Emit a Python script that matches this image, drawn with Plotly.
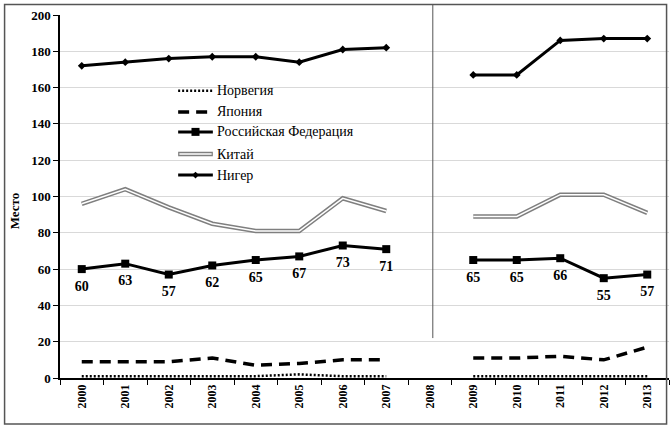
import plotly.graph_objects as go

years = ["2000", "2001", "2002", "2003", "2004", "2005", "2006", "2007", "2008",
         "2009", "2010", "2011", "2012", "2013"]
norway = [1, 1, 1, 1, 1, 2, 1, 1, None, 1, 1, 1, 1, 1]
japan = [9, 9, 9, 11, 7, 8, 10, 10, None, 11, 11, 12, 10, 17]
russia = [60, 63, 57, 62, 65, 67, 73, 71, None, 65, 65, 66, 55, 57]
china = [96, 104, 94, 85, 81, 81, 99, 92, None, 89, 89, 101, 101, 91]
niger = [172, 174, 176, 177, 177, 174, 181, 182, None, 167, 167, 186, 187, 187]
legend_names = ["Норвегия", "Япония", "Российская Федерация", "Китай", "Нигер"]

SERIF = "Liberation Serif"

fig = go.Figure()

fig.add_trace(go.Scatter(x=years, y=norway, mode="lines", name=legend_names[0],
                         line=dict(color="black", width=2.5, dash="2px,2px"),
                         connectgaps=False))
fig.add_trace(go.Scatter(x=years, y=japan, mode="lines", name=legend_names[1],
                         line=dict(color="black", width=3.5, dash="11px,7px"),
                         connectgaps=False))
fig.add_trace(go.Scatter(x=years, y=china, mode="lines", name=legend_names[3],
                         line=dict(color="#7f7f7f", width=4.5),
                         connectgaps=False))
fig.add_trace(go.Scatter(x=years, y=china, mode="lines", name=legend_names[3],
                         line=dict(color="white", width=1.5),
                         connectgaps=False, hoverinfo="skip"))
fig.add_trace(go.Scatter(x=years, y=russia, mode="lines+markers", name=legend_names[2],
                         line=dict(color="black", width=3),
                         marker=dict(symbol="square", size=8, color="black"),
                         connectgaps=False))
fig.add_trace(go.Scatter(x=years, y=russia, mode="markers+text", name=legend_names[2],
                         marker=dict(size=16, opacity=0),
                         text=[str(v) if v is not None else "" for v in russia],
                         textposition="bottom center", cliponaxis=False,
                         textfont=dict(family=SERIF, size=14, color="black", weight="bold"),
                         hoverinfo="skip"))
fig.add_trace(go.Scatter(x=years, y=niger, mode="lines+markers", name=legend_names[4],
                         line=dict(color="black", width=3),
                         marker=dict(symbol="diamond", size=6, color="black"),
                         connectgaps=False))

shapes = []
annotations = []

# outer border
shapes.append(dict(type="rect", xref="paper", yref="paper",
                   x0=-0.091, x1=0.996, y0=-0.127, y1=1.029,
                   line=dict(color="#555555", width=1.5), layer="above"))
# vertical separator near 2008
shapes.append(dict(type="line", xref="x", yref="paper",
                   x0=8.07, x1=8.07, y0=0.11, y1=1.029,
                   line=dict(color="#555555", width=1)))

# manual legend
leg_y = [0.791, 0.733, 0.678, 0.617, 0.559]
lx0, lx1, tx = 0.194, 0.251, 0.254
styles = [
    dict(color="black", width=2.5, dash="2px,2px"),
    dict(color="black", width=3.5, dash="11px,7px"),
    dict(color="black", width=3),
    dict(color="#7f7f7f", width=4.5),
    dict(color="black", width=3),
]
for i, (yy, st) in enumerate(zip(leg_y, styles)):
    shapes.append(dict(type="line", xref="paper", yref="paper",
                       x0=lx0, x1=lx1, y0=yy, y1=yy, line=st))
    if i == 3:
        shapes.append(dict(type="line", xref="paper", yref="paper",
                           x0=lx0 + 0.002, x1=lx1 - 0.002, y0=yy, y1=yy,
                           line=dict(color="white", width=1.5)))
    annotations.append(dict(xref="paper", yref="paper", x=tx, y=yy, text=legend_names[i],
                            showarrow=False, xanchor="left", yanchor="middle",
                            font=dict(family="Times New Roman", size=14, color="black")))
# legend markers
mx = (lx0 + lx1) / 2
shapes.append(dict(type="rect", xref="paper", yref="paper",
                   x0=mx - 0.0066, x1=mx + 0.0066, y0=leg_y[2] - 0.011, y1=leg_y[2] + 0.011,
                   fillcolor="black", line=dict(width=0)))
dx, dy = 0.0055, 0.0095
shapes.append(dict(type="path", xref="paper", yref="paper",
                   path=f"M {mx - dx} {leg_y[4]} L {mx} {leg_y[4] + dy} L {mx + dx} {leg_y[4]} L {mx} {leg_y[4] - dy} Z",
                   fillcolor="black", line=dict(width=0)))

annotations.append(dict(xref="paper", yref="paper", x=-0.075, y=0.46, text="<b>Место</b>",
                        showarrow=False, textangle=-90, xanchor="center", yanchor="middle",
                        font=dict(family="serif", size=13, color="black")))

fig.update_layout(
    width=670, height=427,
    margin=dict(l=60, r=1, t=15, b=49),
    paper_bgcolor="white", plot_bgcolor="white",
    showlegend=False,
    font=dict(family=SERIF),
    shapes=shapes, annotations=annotations,
    xaxis=dict(type="category", categoryorder="array", categoryarray=years,
               range=[-0.5, 13.5], showgrid=False, showline=True, linecolor="black",
               linewidth=1.5, ticks="outside", tickson="boundaries", ticklen=5,
               tickcolor="black", tickangle=-90,
               tickfont=dict(family="serif", size=12, color="black", weight="bold")),
    yaxis=dict(range=[0, 200], dtick=20, showgrid=True, gridcolor="#d9d9d9", gridwidth=1,
               showline=True, linecolor="black", linewidth=1.5, ticks="outside",
               ticklen=5, tickcolor="black", zeroline=False,
               tickfont=dict(family="Times New Roman", size=13, color="black", weight="bold")),
)

fig.write_html("out.html", config={"displayModeBar": False},
               post_script="document.body.style.margin='0';document.body.style.overflow='hidden';")
